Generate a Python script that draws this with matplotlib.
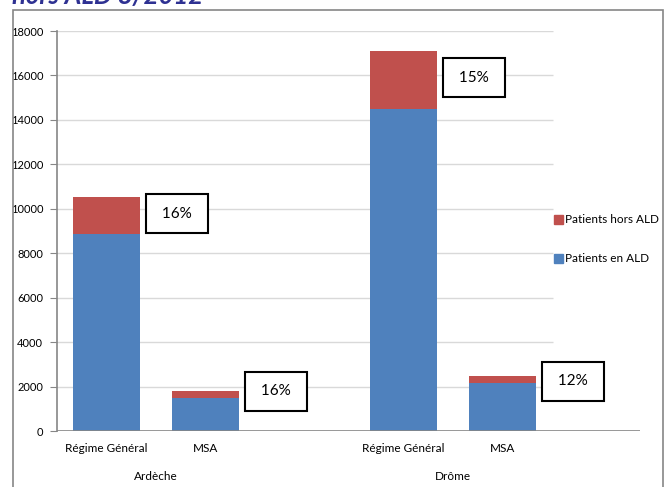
import matplotlib.pyplot as plt
from matplotlib.patches import Rectangle

plt.rcParams['font.family'] = ['Lato', 'DejaVu Sans']

groups = ["Ardèche", "Drôme"]
regimes = ["Régime Général", "MSA"]
en_ald = [8870, 1500, 14480, 2180]      # Patients en ALD
hors_ald = [1660, 285, 2620, 300]       # Patients hors ALD
yticks = list(range(0, 18001, 2000))

blue = "#4f81bd"
red = "#c0504d"
axis_grey = "#868686"

W, H = 666, 487
fig = plt.figure(figsize=(W / 100, H / 100), dpi=100)

# outer chart frame
fig.patches.append(Rectangle((13 / W, -0.02), (663 - 13) / W, (H - 10) / H + 0.02,
                             transform=fig.transFigure, fill=False,
                             edgecolor=axis_grey, linewidth=1.2))

# title, cut by the top edge as in the original
fig.text(12 / W, 1 - 4 / H, "hors ALD 8/2012", color="#2e3192", fontsize=18.5,
         fontweight="bold", style="italic", va="baseline", ha="left")

slot = 99
ax = fig.add_axes([57 / W, (H - 431) / H, 6 * slot / W, 400 / H])
ax.set_xlim(-0.5, 5.5)
ax.set_ylim(0, 18000)

xs = [0, 1, 3, 4]
totals = [a + b for a, b in zip(en_ald, hors_ald)]
ax.bar(xs, en_ald, width=0.68, color=blue, zorder=2)
ax.bar(xs, hors_ald, bottom=en_ald, width=0.68, color=red, zorder=2)

# gridlines stop at the legend area
grid_end = (553 - 57) / slot - 0.5
ax.hlines(yticks[1:], -0.5, grid_end, color="#d9d9d9", linewidth=1, zorder=1)
ax.hlines(0, -0.5, (640 - 57) / slot - 0.5, color=axis_grey, linewidth=1.2, zorder=3)

for s in ["top", "right", "bottom"]:
    ax.spines[s].set_visible(False)
ax.spines["left"].set_color(axis_grey)
ax.spines["left"].set_linewidth(1.2)
ax.set_yticks(yticks)
ax.set_yticklabels([str(v) for v in yticks], fontsize=8)
ax.tick_params(axis="y", length=5, color=axis_grey, pad=5)
ax.set_xticks([])

# percentage boxes
label_dy = [-750, 0, -1200, -250]
for x, t, h, dy in zip(xs, totals, hors_ald, label_dy):
    pct = round(100 * h / t)
    ax.text(x + 0.34 + 0.37, t + dy, f" {pct}% ", ha="center", va="center",
            fontsize=11, zorder=4,
            bbox=dict(boxstyle="square,pad=0.8", facecolor="white",
                      edgecolor="black", linewidth=1.5))

# category labels
for x, r in zip(xs, regimes * 2):
    fig.text((57 + (x + 0.5) * slot) / W, 1 - 448 / H, r, ha="center",
             va="center", fontsize=8.5)
for g, c in zip(groups, [0.5, 3.5]):
    fig.text((57 + (c + 0.5) * slot) / W, 1 - 476 / H, g, ha="center",
             va="center", fontsize=8.5)

# legend
for lab, col, yy in [("Patients hors ALD", red, 219), ("Patients en ALD", blue, 258)]:
    fig.patches.append(Rectangle((554 / W, 1 - (yy + 4.5) / H), 9 / W, 9 / H,
                                 transform=fig.transFigure, color=col))
    fig.text(565 / W, 1 - yy / H, lab, va="center", ha="left", fontsize=8.5)

fig.savefig("out.png", dpi=100)
